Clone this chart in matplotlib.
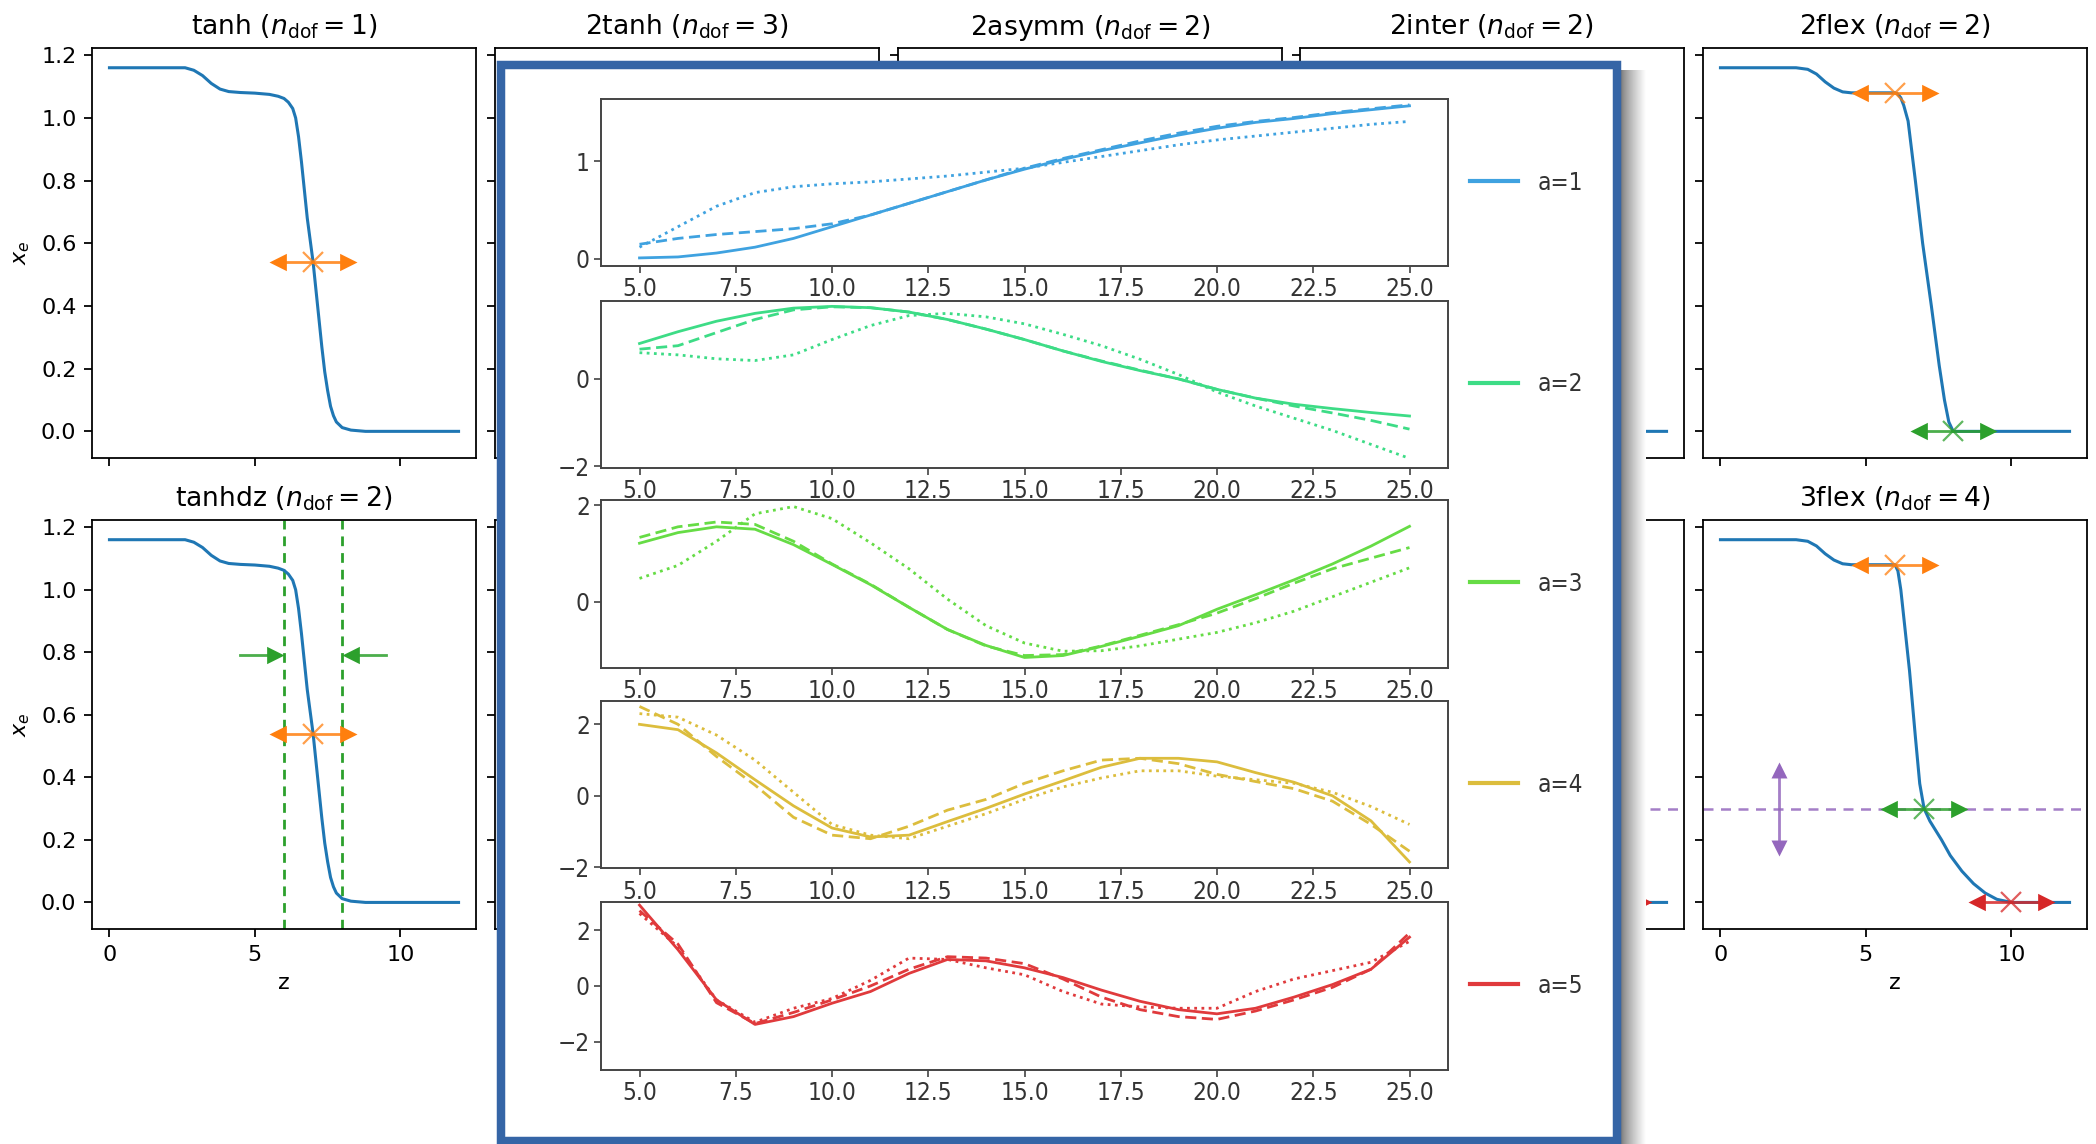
import numpy as np
import matplotlib
matplotlib.use("Agg")
import matplotlib.pyplot as plt
from matplotlib.path import Path
from matplotlib.patches import Rectangle
from matplotlib.font_manager import FontProperties

# ---------------- data: background reionization-history panels ----------------
z_tanh = [0, 2.6, 2.9, 3.2, 3.5, 3.8, 4.1, 4.5, 5.0, 5.5, 5.8, 6.0, 6.15, 6.3, 6.4,
          6.5, 6.6, 6.7, 6.8, 6.9, 7.0, 7.1, 7.2, 7.3, 7.4, 7.5, 7.6, 7.7, 7.8, 8.0,
          8.3, 8.8, 12.0]
xe_tanh = [1.16, 1.16, 1.152, 1.135, 1.11, 1.092, 1.084, 1.081, 1.079, 1.075, 1.069,
           1.062, 1.05, 1.03, 1.0, 0.94, 0.86, 0.77, 0.68, 0.61, 0.54, 0.45, 0.36,
           0.27, 0.19, 0.13, 0.08, 0.05, 0.03, 0.012, 0.004, 0.0, 0.0]

z_2flex = [0, 2.6, 3.0, 3.3, 3.6, 3.9, 4.2, 4.5, 6.0, 6.1, 6.2, 6.3, 6.45, 6.7, 6.95,
           7.25, 7.52, 7.7, 7.85, 8.0, 12.0]
xe_2flex = [1.16, 1.16, 1.155, 1.14, 1.115, 1.095, 1.083, 1.08, 1.08, 1.076, 1.064,
            1.04, 0.99, 0.8, 0.6, 0.4, 0.21, 0.1, 0.03, 0.0, 0.0]

z_3flex = [0, 2.6, 3.0, 3.3, 3.6, 3.9, 4.2, 4.5, 6.0, 6.1, 6.2, 6.35, 6.5, 6.7, 6.85,
           7.0, 7.2, 7.4, 7.6, 7.9, 8.3, 8.7, 9.1, 9.5, 10.0, 12.0]
xe_3flex = [1.16, 1.16, 1.155, 1.14, 1.115, 1.095, 1.083, 1.08, 1.08, 1.06, 1.0,
            0.87, 0.74, 0.53, 0.38, 0.30, 0.26, 0.23, 0.20, 0.15, 0.10, 0.06, 0.03,
            0.01, 0.0, 0.0]

titles_top = ["tanh", "2tanh", "2asymm", "2inter", "2flex"]
ndof_top = [1, 3, 2, 2, 2]
titles_bottom = ["tanhdz", None, None, None, "3flex"]
ndof_bottom = [2, None, None, None, 4]

tanh_knot = (7.0, 0.54)
tanhdz_edges = [6.0, 8.0]
tanhdz_edge_arrow_y = 0.79
flex2_knots_z = [6.0, 8.0]
flex2_knots_xe = [1.08, 0.0]
flex3_knots_z = [6.0, 7.0, 10.0]
flex3_knots_xe = [1.08, 0.30, 0.0]
flex3_level_z = 2.0
flex3_level = 0.30

# ---------------- data: inset (eigen-mode amplitudes) ----------------
mode_z = [5, 6, 7, 8, 9, 10, 11, 12, 13, 14, 15, 16, 17, 18, 19, 20, 21, 22, 23, 24, 25]

a1_solid = [0.01, 0.02, 0.06, 0.12, 0.21, 0.33, 0.45, 0.57, 0.69, 0.81, 0.92, 1.02, 1.11, 1.19, 1.27, 1.34, 1.40, 1.44, 1.49, 1.53, 1.57]
a1_dash = [0.15, 0.21, 0.25, 0.28, 0.31, 0.36, 0.45, 0.57, 0.69, 0.81, 0.93, 1.03, 1.12, 1.21, 1.29, 1.36, 1.41, 1.45, 1.50, 1.54, 1.58]
a1_dot = [0.12, 0.33, 0.54, 0.68, 0.74, 0.77, 0.79, 0.82, 0.85, 0.89, 0.93, 0.99, 1.05, 1.11, 1.17, 1.22, 1.26, 1.30, 1.34, 1.38, 1.41]

a2_solid = [0.81, 1.08, 1.32, 1.50, 1.62, 1.66, 1.63, 1.53, 1.36, 1.14, 0.90, 0.64, 0.40, 0.19, 0.0, -0.24, -0.44, -0.58, -0.68, -0.77, -0.85]
a2_dash = [0.68, 0.76, 1.06, 1.36, 1.58, 1.65, 1.63, 1.53, 1.36, 1.14, 0.90, 0.64, 0.41, 0.20, 0.0, -0.24, -0.44, -0.62, -0.78, -0.95, -1.15]
a2_dot = [0.60, 0.55, 0.46, 0.42, 0.55, 0.90, 1.22, 1.45, 1.50, 1.42, 1.26, 1.02, 0.76, 0.45, 0.10, -0.30, -0.62, -0.90, -1.18, -1.50, -1.82]

a3_solid = [1.21, 1.43, 1.55, 1.50, 1.18, 0.77, 0.35, -0.12, -0.58, -0.91, -1.16, -1.12, -0.93, -0.72, -0.50, -0.16, 0.14, 0.45, 0.78, 1.15, 1.56]
a3_dash = [1.33, 1.55, 1.65, 1.60, 1.25, 0.78, 0.36, -0.12, -0.58, -0.92, -1.12, -1.10, -0.92, -0.70, -0.48, -0.24, 0.06, 0.38, 0.68, 0.90, 1.12]
a3_dot = [0.48, 0.75, 1.25, 1.82, 1.97, 1.72, 1.22, 0.68, 0.05, -0.50, -0.86, -1.03, -1.02, -0.92, -0.78, -0.64, -0.44, -0.20, 0.10, 0.40, 0.70]

a4_solid = [2.0, 1.85, 1.2, 0.45, -0.28, -0.9, -1.15, -1.1, -0.72, -0.35, 0.05, 0.42, 0.8, 1.05, 1.05, 0.95, 0.65, 0.38, 0.0, -0.7, -1.85]
a4_dash = [2.5, 2.0, 1.1, 0.3, -0.6, -1.1, -1.2, -0.85, -0.4, -0.1, 0.35, 0.7, 1.0, 1.05, 0.9, 0.6, 0.4, 0.2, -0.15, -0.8, -1.55]
a4_dot = [2.3, 2.2, 1.7, 1.0, 0.1, -0.8, -1.1, -1.2, -0.85, -0.5, -0.1, 0.25, 0.5, 0.7, 0.7, 0.55, 0.45, 0.35, 0.1, -0.3, -0.8]

a5_solid = [2.9, 1.3, -0.5, -1.38, -1.1, -0.62, -0.2, 0.45, 0.95, 0.9, 0.65, 0.3, -0.15, -0.55, -0.85, -1.0, -0.8, -0.4, 0.05, 0.6, 1.75]
a5_dash = [2.7, 1.5, -0.6, -1.35, -0.95, -0.5, 0.0, 0.6, 1.05, 1.0, 0.8, 0.25, -0.4, -0.85, -1.1, -1.2, -0.9, -0.5, -0.05, 0.6, 1.9]
a5_dot = [2.6, 1.4, -0.5, -1.3, -0.8, -0.45, 0.2, 1.0, 0.95, 0.65, 0.4, -0.2, -0.65, -0.75, -0.8, -0.8, -0.2, 0.25, 0.55, 0.85, 1.6]

mode_labels = ["a=1", "a=2", "a=3", "a=4", "a=5"]
mode_colors = ["#3fa2e0", "#3ddc86", "#66dc45", "#dcbd3d", "#e03a3c"]
mode_series = [(a1_solid, a1_dash, a1_dot), (a2_solid, a2_dash, a2_dot),
               (a3_solid, a3_dash, a3_dot), (a4_solid, a4_dash, a4_dot),
               (a5_solid, a5_dash, a5_dot)]
mode_ylims = [(-0.076, 1.64), (-2.04, 1.79), (-1.37, 2.1), (-2.03, 2.65), (-3.0, 3.0)]
mode_yticks = [[0, 1], [-2, 0], [0, 2], [-2, 0, 2], [-2, 0, 2]]
mode_xticks = [5.0, 7.5, 10.0, 12.5, 15.0, 17.5, 20.0, 22.5, 25.0]

# ---------------- figure ----------------
W, H, DPI = 2096, 1144, 100
plt.rcParams.update({
    "font.family": "DejaVu Sans",
    "font.size": 16,
    "axes.linewidth": 1.28,
    "axes.titlesize": 19.2,
    "axes.titlepad": 9.6,
    "xtick.major.size": 5.6, "ytick.major.size": 5.6,
    "xtick.major.width": 1.28, "ytick.major.width": 1.28,
    "xtick.major.pad": 5.6, "ytick.major.pad": 5.6,
    "axes.labelpad": 6.4,
})
fig = plt.figure(figsize=(W / DPI, H / DPI), dpi=DPI)


def px_axes(l, t, r, b):
    return fig.add_axes([l / W, 1 - b / H, (r - l) / W, (b - t) / H])


BLUE = "#1f77b4"
ORANGE = "#ff7f0e"
GREEN = "#2ca02c"
RED = "#d62728"
PURPLE = "#9467bd"

TIP_R = Path([(0, 0), (-1, 0.5), (-1, -0.5), (0, 0)], [1, 2, 2, 79])
TIP_L = Path([(0, 0), (1, 0.5), (1, -0.5), (0, 0)], [1, 2, 2, 79])
TIP_U = Path([(0, 0), (-0.5, -1), (0.5, -1), (0, 0)], [1, 2, 2, 79])
TIP_D = Path([(0, 0), (-0.5, 1), (0.5, 1), (0, 0)], [1, 2, 2, 79])
MS = 25
HALF = 1.5


def harrow(ax, zc, y, color):
    ax.plot([zc - HALF + 0.3, zc + HALF - 0.3], [y, y], color=color, lw=2.0, alpha=0.85)
    ax.plot([zc - HALF], [y], marker=TIP_L, ms=MS, color=color, mew=0)
    ax.plot([zc + HALF], [y], marker=TIP_R, ms=MS, color=color, mew=0)
    ax.plot([zc], [y], marker="x", ms=15, mew=1.6, color=color, alpha=0.75)


col_left = [92, 495, 898, 1300, 1703]
col_w = 384
row_top = [48, 520]
row_bot = [458, 929]

for r in range(2):
    for c in range(5):
        ax = px_axes(col_left[c], row_top[r], col_left[c] + col_w, row_bot[r])
        ax.set_zorder(0)
        ax.set_xlim(-0.6, 12.6)
        ax.set_ylim(-0.085, 1.223)
        ax.set_xticks([0, 5, 10])
        ax.set_yticks([0.0, 0.2, 0.4, 0.6, 0.8, 1.0, 1.2])
        ax.tick_params(labelleft=(c == 0), labelbottom=(r == 1))
        if c == 0:
            ax.set_ylabel(r"$x_e$")
        if r == 1:
            ax.set_xlabel("z")
        name = titles_top[c] if r == 0 else titles_bottom[c]
        nd = ndof_top[c] if r == 0 else ndof_bottom[c]
        if name is not None:
            ax.set_title(name + r" ($n_\mathrm{dof} = %d$)" % nd)

        if r == 0 and c == 4:
            ax.plot(z_2flex, xe_2flex, color=BLUE, lw=2.2)
            harrow(ax, flex2_knots_z[0], flex2_knots_xe[0], ORANGE)
            harrow(ax, flex2_knots_z[1], flex2_knots_xe[1], GREEN)
        elif r == 1 and c == 4:
            ax.axhline(flex3_level, color=PURPLE, ls=(0, (4, 3)), lw=1.8, alpha=0.85)
            ax.plot(z_3flex, xe_3flex, color=BLUE, lw=2.2)
            harrow(ax, flex3_knots_z[0], flex3_knots_xe[0], ORANGE)
            harrow(ax, flex3_knots_z[1], flex3_knots_xe[1], GREEN)
            harrow(ax, flex3_knots_z[2], flex3_knots_xe[2], RED)
            ax.plot([flex3_level_z] * 2, [flex3_level - 0.12, flex3_level + 0.12],
                    color=PURPLE, lw=2.0, alpha=0.85)
            ax.plot([flex3_level_z], [flex3_level + 0.15], marker=TIP_U, ms=MS - 2, color=PURPLE, mew=0)
            ax.plot([flex3_level_z], [flex3_level - 0.15], marker=TIP_D, ms=MS - 2, color=PURPLE, mew=0)
        elif r == 1 and c == 3:
            ax.axhline(flex3_level, color=PURPLE, ls=(0, (4, 3)), lw=1.8, alpha=0.85)
            ax.plot(z_tanh, xe_tanh, color=BLUE, lw=2.2)
            harrow(ax, flex3_knots_z[2], flex3_knots_xe[2], RED)
        elif r == 1 and c == 0:
            for e in tanhdz_edges:
                ax.axvline(e, color=GREEN, ls=(0, (3.5, 2.5)), lw=2.0)
            ax.plot(z_tanh, xe_tanh, color=BLUE, lw=2.2)
            y = tanhdz_edge_arrow_y
            ax.plot([tanhdz_edges[0] - HALF, tanhdz_edges[0] - 0.3], [y, y], color=GREEN, lw=2.0, alpha=0.85)
            ax.plot([tanhdz_edges[0]], [y], marker=TIP_R, ms=MS, color=GREEN, mew=0)
            ax.plot([tanhdz_edges[1] + 0.3, tanhdz_edges[1] + HALF], [y, y], color=GREEN, lw=2.0, alpha=0.85)
            ax.plot([tanhdz_edges[1]], [y], marker=TIP_L, ms=MS, color=GREEN, mew=0)
            harrow(ax, tanh_knot[0], tanh_knot[1], ORANGE)
        else:
            ax.plot(z_tanh, xe_tanh, color=BLUE, lw=2.2)
            if r == 0 and c == 0:
                harrow(ax, tanh_knot[0], tanh_knot[1], ORANGE)

# ---------------- inset panel overlay ----------------
FRAME_BLUE = "#3565a6"
bl, bt, br, bb = 500.7, 65.3, 1616.8, 1141.0
fig.add_artist(Rectangle((bl / W, 1 - bb / H), (br - bl) / W, (bb - bt) / H,
                         transform=fig.transFigure, facecolor="white",
                         edgecolor=FRAME_BLUE, lw=6.1, zorder=1))

sh = px_axes(1621, 70, 1646, 1144)
sh.set_zorder(0.5)
g = np.linspace(0, 1, 60)
sh.imshow((0.48 + 0.52 * g ** 0.8)[None, :], cmap="gray", vmin=0, vmax=1,
          aspect="auto", interpolation="bilinear")
sh.axis("off")

cond = FontProperties(family="DejaVu Sans", stretch="condensed", size=17.5)
TXT = "#333333"
inset_tops = [99.0, 300.7, 500.3, 701.1, 902.3]
inset_h = 167.3
for i in range(5):
    ax = px_axes(601, inset_tops[i], 1448, inset_tops[i] + inset_h)
    ax.set_zorder(2)
    s, d, o = mode_series[i]
    col = mode_colors[i]
    ax.plot(mode_z, s, color=col, lw=2.0, ls="-", label=mode_labels[i])
    ax.plot(mode_z, d, color=col, lw=2.0, ls=(0, (4, 2)))
    ax.plot(mode_z, o, color=col, lw=2.0, ls=(0, (1, 1.6)))
    ax.set_xlim(4, 26)
    ax.set_ylim(*mode_ylims[i])
    ax.set_xticks(mode_xticks)
    ax.set_yticks(mode_yticks[i])
    for sp in ax.spines.values():
        sp.set_color("#444444")
        sp.set_linewidth(1.4)
    ax.tick_params(colors=TXT, length=5, width=1.1, pad=3)
    for lab in ax.get_xticklabels() + ax.get_yticklabels():
        lab.set_fontproperties(cond)
    leg = ax.legend(loc="center left", bbox_to_anchor=(1.0, 0.5), frameon=False,
                    handlelength=2.0, prop=cond)
    for t in leg.get_texts():
        t.set_color(TXT)
    for ln in leg.get_lines():
        ln.set_linewidth(3.0)

fig.savefig("out.png", dpi=DPI)
